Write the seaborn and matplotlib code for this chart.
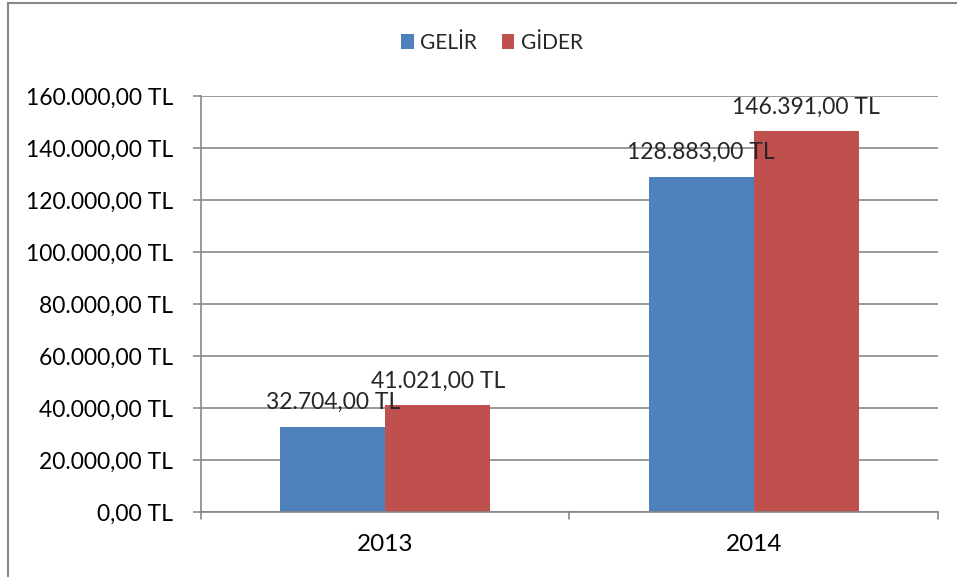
import pandas as pd
import matplotlib.pyplot as plt
import seaborn as sns
from matplotlib.lines import Line2D
from matplotlib.ticker import FuncFormatter

# veriler
years = ["2013", "2014"]
series = ["GELİR", "GİDER"]
gelir = [32704, 128883]
gider = [41021, 146391]
colors = ["#4F81BD", "#C0504D"]

df = pd.DataFrame({
    "yil": years * 2,
    "tur": [series[0]] * len(years) + [series[1]] * len(years),
    "tutar": gelir + gider,
})


def tl(v):
    s = f"{v:,.2f}"
    s = s.replace(",", "#").replace(".", ",").replace("#", ".")
    return f"{s} TL"


sns.set_theme(style="white")
plt.rcParams["font.family"] = ["Lato", "DejaVu Sans"]

fig = plt.figure(figsize=(9.57, 5.77), dpi=100)
ax = fig.add_axes([0.210, 0.1127, 0.770, 0.7209])

sns.barplot(data=df, x="yil", y="tutar", hue="tur", palette=colors,
            width=0.57, saturation=1, linewidth=0, ax=ax, legend=True)

ax.set_ylim(0, 160000)
ax.set_yticks(range(0, 160001, 20000))
ax.yaxis.set_major_formatter(FuncFormatter(lambda v, p: tl(v)))
ax.set_xlim(-0.5, 1.5)
ax.set_xlabel("")
ax.set_ylabel("")
ax.tick_params(axis="y", labelsize=16.5, colors="black", left=True, length=6,
               width=1.2, color="#878787", pad=14)
ax.tick_params(axis="x", labelsize=17.5, colors="black", bottom=False, pad=10)

# kategori sinirlarinda x isaretleri
for xb in [-0.5, 0.5, 1.5]:
    ax.plot([xb, xb], [0, -0.016], transform=ax.get_xaxis_transform(),
            color="#878787", lw=1.2, clip_on=False)

ax.grid(True, axis="y", color="#878787", lw=1.2)
ax.set_axisbelow(True)
for side in ["top", "right"]:
    ax.spines[side].set_visible(False)
for side in ["left", "bottom"]:
    ax.spines[side].set_color("#878787")
    ax.spines[side].set_linewidth(1.2)

for container in ax.containers:
    ax.bar_label(container, labels=[tl(b.get_height()) for b in container],
                 padding=10, fontsize=16.5)

handles, labels = ax.get_legend_handles_labels()
ax.legend(handles, labels, loc="center", bbox_to_anchor=(492 / 957, 1 - 43 / 577),
          bbox_transform=fig.transFigure, ncol=2, frameon=False, fontsize=15,
          handlelength=0.6, handleheight=0.7, handletextpad=0.3, columnspacing=1.2)

# dis cerceve
fig.add_artist(Line2D([8 / 957, 8 / 957], [0, 1 - 3 / 577], transform=fig.transFigure,
                      color="#878787", lw=1.5))
fig.add_artist(Line2D([8 / 957, 1], [1 - 3 / 577, 1 - 3 / 577], transform=fig.transFigure,
                      color="#878787", lw=1.5))

fig.savefig("out.png", dpi=100)
